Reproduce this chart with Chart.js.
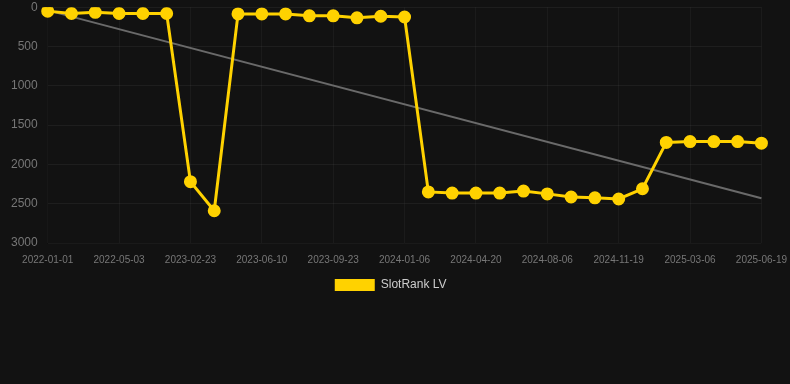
<!DOCTYPE html>
<html>
<head>
<meta charset="utf-8">
<script src="https://cdn.jsdelivr.net/npm/chart.js@4"></script>
<style>
  html, body { margin: 0; padding: 0; background: #121212; overflow: hidden; }
  #wrap { width: 790px; height: 304px; margin-top: -3px; position: relative; }
</style>
</head>
<body>
<div id="wrap"><canvas id="RankChart"></canvas></div>
<script>
const dates = [
  '2022-01-01', '2022-02-11', '2022-03-23', '2022-05-03', '2022-06-14', '2022-09-20',
  '2023-02-23', '2023-04-01', '2023-05-06', '2023-06-10', '2023-07-15', '2023-08-19',
  '2023-09-23', '2023-10-28', '2023-12-02', '2024-01-06', '2024-02-10', '2024-03-16',
  '2024-04-20', '2024-05-25', '2024-07-02', '2024-08-06', '2024-09-10', '2024-10-15',
  '2024-11-19', '2024-12-24', '2025-01-30', '2025-03-06', '2025-04-10', '2025-05-15',
  '2025-06-19'
];
const ranks = [
  50, 80, 65, 80, 80, 80,
  2220, 2590, 85, 85, 85, 110,
  110, 135, 115, 125, 2350, 2365,
  2365, 2365, 2340, 2375, 2415, 2425,
  2440, 2310, 1720, 1710, 1710, 1710,
  1730
];
// trend line: only the two ends, joined across the gap
const trend = dates.map(() => null);
trend[0] = 40;
trend[trend.length - 1] = 2430;

Chart.defaults.font.family = 'Helvetica, Arial, "Liberation Sans", sans-serif';
Chart.defaults.color = '#7a7a7a';

const ctx = document.getElementById('RankChart').getContext('2d');
const rankChart = new Chart(ctx, {
    type: 'line',
    data: {
        labels: dates,
        datasets: [{
            label: 'SlotRank LV',
            data: ranks,
            borderColor: '#ffd200',
            backgroundColor: '#ffd200',
            borderWidth: 3,
            pointRadius: 5,
            pointHoverRadius: 6,
            tension: 0
        }, {
            label: 'trend',
            data: trend,
            borderColor: '#6a6a6a',
            borderWidth: 2,
            pointRadius: 0,
            spanGaps: true
        }]
    },
    options: {
        responsive: true,
        maintainAspectRatio: false,
        animation: false,
        layout: { padding: { left: 8 } },
        plugins: {
            legend: {
                position: 'bottom',
                labels: {
                    color: '#cccccc',
                    font: { size: 12 },
                    boxWidth: 40,
                    boxHeight: 12,
                    filter: item => item.text.trim() !== 'trend',
                    generateLabels: chart => {
                        const items = Chart.defaults.plugins.legend.labels.generateLabels(chart);
                        items.forEach(it => {
                            it.lineWidth = 0;
                            it.text = it.text + '\u00a0\u00a0\u00a0\u00a0\u00a0';
                        });
                        return items;
                    }
                }
            },
            tooltip: { enabled: false }
        },
        scales: {
            x: {
                grid: { color: 'rgba(255,255,255,0.04)', tickColor: 'transparent' },
                ticks: { font: { size: 10 }, maxRotation: 0, color: '#777' }
            },
            y: {
                reverse: true,
                min: 0,
                max: 3000,
                grid: { color: 'rgba(255,255,255,0.05)', tickColor: 'transparent', tickLength: 7 },
                ticks: { stepSize: 500, font: { size: 12 }, color: '#777', callback: v => String(v) }
            }
        }
    }
});
</script>
</body>
</html>
